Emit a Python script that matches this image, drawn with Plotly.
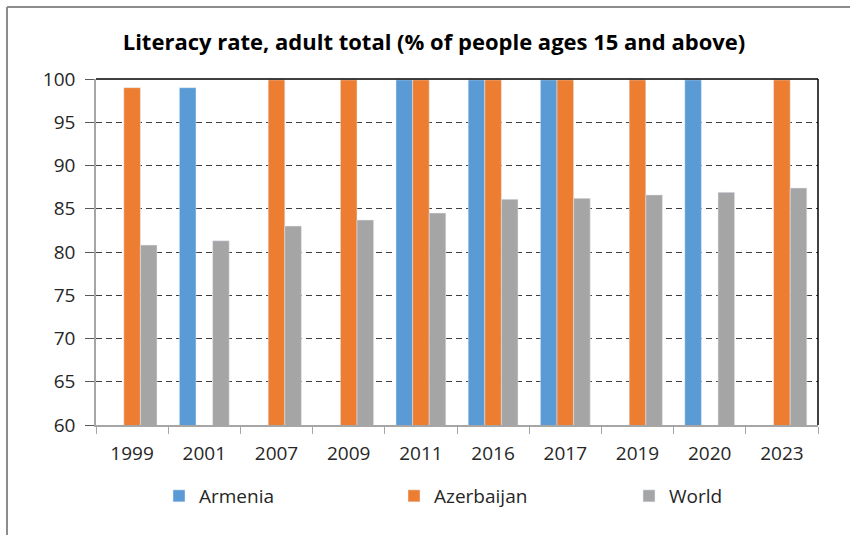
import plotly.graph_objects as go

years = ["1999", "2001", "2007", "2009", "2011", "2016", "2017", "2019", "2020", "2023"]
armenia = [None, 99.0, None, None, 99.9, 99.9, 99.9, None, 99.9, None]
azerbaijan = [99.0, None, 99.9, 99.9, 99.9, 99.9, 99.9, 99.9, None, 99.9]
world = [80.8, 81.3, 83.0, 83.7, 84.5, 86.1, 86.2, 86.6, 86.9, 87.4]
y_ticks = [60, 65, 70, 75, 80, 85, 90, 95, 100]

FONT = "Open Sans"
W, H = 850, 535
ML, MR, MT, MB = 96, 32, 79, 110
PW, PH = W - ML - MR, H - MT - MB

def px_x(x):
    return (x - ML) / PW

def px_y(y):
    return (H - MB - y) / PH

fig = go.Figure()
fig.add_trace(go.Bar(x=years, y=armenia, name="Armenia", marker_color="#5B9BD5"))
fig.add_trace(go.Bar(x=years, y=azerbaijan, name="Azerbaijan", marker_color="#ED7D31"))
fig.add_trace(go.Bar(x=years, y=world, name="World", marker_color="#A5A5A5"))

shapes = [
    dict(type="line", xref="paper", yref="paper", x0=0, x1=1, y0=1, y1=1,
         line=dict(color="#000000", width=1.5)),
    dict(type="line", xref="paper", yref="paper", x0=1, x1=1, y0=0, y1=1,
         line=dict(color="#000000", width=1.5)),
    dict(type="line", xref="paper", yref="paper", x0=px_x(7), x1=px_x(850), y0=px_y(7), y1=px_y(7),
         line=dict(color="#8C8C8C", width=2)),
    dict(type="line", xref="paper", yref="paper", x0=px_x(7), x1=px_x(7), y0=px_y(7), y1=px_y(535),
         line=dict(color="#8C8C8C", width=2)),
]

fig.update_layout(
    width=W, height=H,
    margin=dict(l=ML, r=MR, t=MT, b=MB, autoexpand=False),
    paper_bgcolor="white", plot_bgcolor="white",
    barmode="group", bargap=0.31, bargroupgap=0,
    font=dict(family=FONT, size=19, color="#262626"),
    title=dict(text="<b>Literacy rate, adult total (% of people ages 15 and above)</b>",
               x=434 / W, xanchor="center", y=1 - 42 / H, yanchor="middle",
               font=dict(family=FONT, size=22, color="#000000")),
    xaxis=dict(type="category", showline=True, linecolor="#A6A6A6", linewidth=1.5,
               ticks="outside", tickson="boundaries", ticklen=7, tickcolor="#A6A6A6",
               ticklabelstandoff=10,
               showgrid=False, tickfont=dict(size=19, color="#262626")),
    yaxis=dict(range=[60, 100], tickvals=y_ticks, showline=True, linecolor="#A6A6A6", linewidth=1.5,
               ticks="outside", ticklen=9, tickcolor="#5A5A5A", ticklabelstandoff=6,
               showgrid=True, gridcolor="#404040", griddash="6px,4px", gridwidth=1,
               zeroline=False, tickfont=dict(size=19, color="#262626")),
    legend=dict(orientation="h", x=px_x(159), xanchor="left", y=px_y(496), yanchor="middle",
                entrywidth=190, entrywidthmode="pixels", font=dict(size=19, color="#262626"),
                traceorder="normal"),
    shapes=shapes,
)

fig.write_html("out.html")
